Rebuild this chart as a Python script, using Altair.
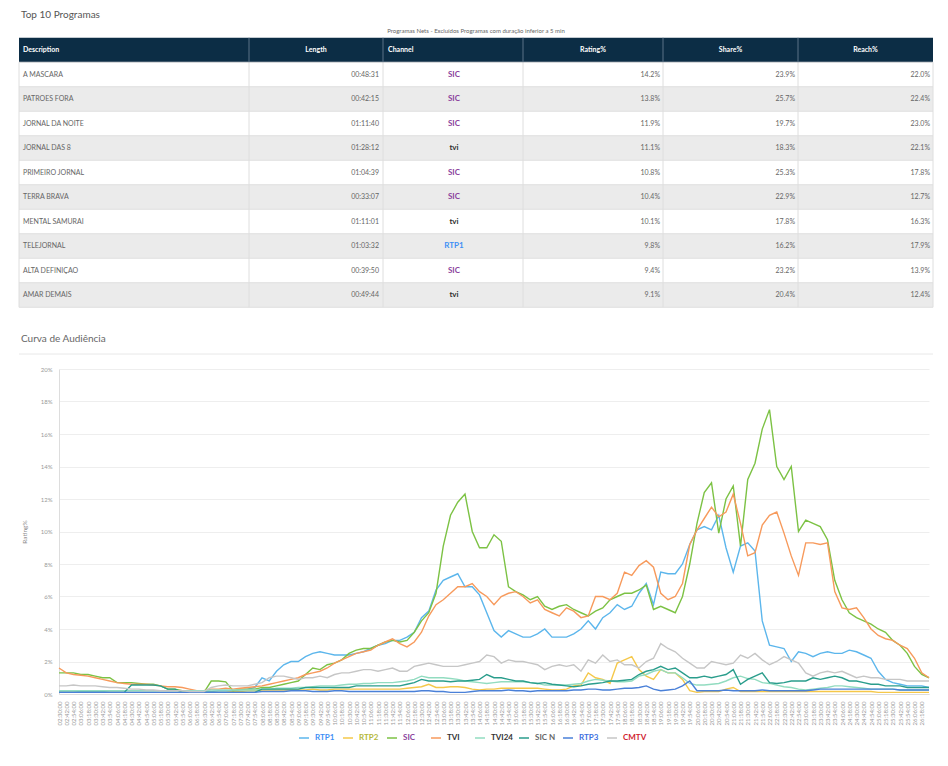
import altair as alt
import pandas as pd

# ---------------- Tabela: Top 10 Programas ----------------
PROGRAMAS = ["A MASCARA", "PATROES FORA", "JORNAL DA NOITE", "JORNAL DAS 8", "PRIMEIRO JORNAL",
             "TERRA BRAVA", "MENTAL SAMURAI", "TELEJORNAL", "ALTA DEFINIÇAO", "AMAR DEMAIS"]
DURACAO = ["00:48:31", "00:42:15", "01:11:40", "01:28:12", "01:04:39",
           "00:33:07", "01:11:01", "01:03:32", "00:39:50", "00:49:44"]
CANAL_PROG = ["SIC", "SIC", "SIC", "tvi", "SIC", "SIC", "tvi", "RTP1", "SIC", "tvi"]
RATING = [14.2, 13.8, 11.9, 11.1, 10.8, 10.4, 10.1, 9.8, 9.4, 9.1]
SHARE = [23.9, 25.7, 19.7, 18.3, 25.3, 22.9, 17.8, 16.2, 23.2, 20.4]
REACH = [22.0, 22.4, 23.0, 22.1, 17.8, 12.7, 16.3, 17.9, 13.9, 12.4]

# ---------------- Curva de Audiência (Rating%, passo de 12 min) ----------------
CANAIS = ["RTP1", "RTP2", "SIC", "TVI", "TVI24", "SIC N", "RTP3", "CMTV"]
CORES = ["#5cb6ec", "#f5c84a", "#7cc244", "#f79a5c", "#92dcc0", "#2a9d8c", "#4a80d8", "#c6c6c6"]
LOGO_CORES = ["#3d8ff5", "#b5b83a", "#8a3f9c", "#333333", "#333333", "#666666", "#3d6fe0", "#d0202e"]

HORAS = ["%02d:%02d:00" % ((150 + 12 * i) // 60, (150 + 12 * i) % 60) for i in range(121)]

RTP1 = [0.2, 0.2, 0.2, 0.15, 0.15, 0.15, 0.15, 0.1, 0.1, 0.1,
        0.1, 0.1, 0.1, 0.1, 0.1, 0.1, 0.1, 0.1, 0.1, 0.1,
        0.15, 0.15, 0.2, 0.2, 0.2, 0.25, 0.3, 0.4, 1.0, 0.8,
        1.4, 1.8, 2.0, 2.0, 2.3, 2.5, 2.6, 2.5, 2.4, 2.4,
        2.4, 2.5, 2.6, 2.8, 3.0, 3.1, 3.3, 3.3, 3.5, 3.8,
        4.7, 5.1, 6.4, 7.0, 7.2, 7.4, 6.6, 6.6, 6.1, 5.0,
        3.9, 3.5, 3.9, 3.7, 3.5, 3.5, 3.7, 4.0, 3.5, 3.5,
        3.5, 3.7, 4.0, 4.5, 4.0, 4.7, 5.0, 5.5, 5.2, 5.4,
        6.2, 6.8, 5.5, 7.5, 7.4, 7.4, 8.0, 9.2, 10.1, 10.3,
        10.1, 11.0, 9.0, 7.5, 9.1, 9.3, 8.8, 4.5, 3.0, 2.9,
        2.8, 2.0, 2.6, 2.5, 2.3, 2.5, 2.6, 2.5, 2.5, 2.7,
        2.6, 2.4, 2.2, 1.4, 0.9, 0.7, 0.6, 0.5, 0.5, 0.5,
        0.4]
RTP2 = [0.1, 0.1, 0.1, 0.1, 0.1, 0.1, 0.1, 0.1, 0.1, 0.1,
        0.1, 0.1, 0.1, 0.1, 0.1, 0.1, 0.1, 0.1, 0.1, 0.1,
        0.1, 0.1, 0.1, 0.1, 0.15, 0.15, 0.2, 0.2, 0.25, 0.25,
        0.25, 0.25, 0.25, 0.25, 0.25, 0.3, 0.25, 0.25, 0.3, 0.3,
        0.3, 0.3, 0.3, 0.3, 0.3, 0.3, 0.3, 0.3, 0.35, 0.4,
        0.45, 0.6, 0.4, 0.4, 0.45, 0.45, 0.4, 0.3, 0.25, 0.3,
        0.3, 0.35, 0.35, 0.35, 0.35, 0.35, 0.35, 0.3, 0.25, 0.25,
        0.3, 0.5, 0.55, 1.3, 1.0, 0.9, 0.65, 1.9, 2.1, 2.3,
        1.5, 1.1, 0.9, 1.5, 1.3, 1.3, 0.9, 0.2, 0.1, 0.15,
        0.15, 0.15, 0.3, 0.4, 0.15, 0.15, 0.15, 0.15, 0.15, 0.15,
        0.15, 0.15, 0.15, 0.15, 0.15, 0.15, 0.15, 0.15, 0.15, 0.15,
        0.15, 0.15, 0.15, 0.1, 0.1, 0.1, 0.1, 0.1, 0.1, 0.1,
        0.1]
SIC = [1.3, 1.3, 1.3, 1.2, 1.2, 1.1, 1.0, 1.0, 0.7, 0.7,
       0.7, 0.65, 0.6, 0.6, 0.5, 0.3, 0.3, 0.2, 0.1, 0.1,
       0.1, 0.8, 0.8, 0.75, 0.2, 0.3, 0.3, 0.3, 0.4, 0.4,
       0.5, 0.6, 0.7, 0.8, 1.2, 1.6, 1.5, 1.8, 1.9, 2.1,
       2.5, 2.7, 2.8, 2.8, 3.0, 3.2, 3.3, 3.2, 3.3, 3.8,
       4.5, 5.0, 6.2, 9.1, 11.0, 11.8, 12.3, 10.0, 9.0, 9.0,
       9.8, 9.4, 6.6, 6.3, 6.1, 5.8, 6.0, 5.4, 5.2, 5.4,
       5.5, 5.2, 5.0, 4.8, 5.1, 5.3, 5.8, 6.0, 6.2, 6.2,
       6.4, 6.7, 5.2, 5.4, 5.2, 5.0, 6.0, 8.0, 10.5, 12.4,
       13.0, 9.9, 12.0, 12.8, 9.1, 13.2, 14.2, 16.3, 17.5, 14.0,
       13.2, 14.0, 10.0, 10.7, 10.5, 10.3, 9.5, 7.0, 5.8, 5.0,
       4.7, 4.5, 4.3, 4.0, 3.8, 3.3, 3.0, 2.5, 1.7, 1.2,
       1.0]
TVI = [1.6, 1.3, 1.2, 1.15, 1.1, 1.0, 0.9, 0.8, 0.7, 0.65,
       0.6, 0.6, 0.6, 0.55, 0.5, 0.45, 0.45, 0.4, 0.3, 0.2,
       0.2, 0.3, 0.3, 0.35, 0.3, 0.35, 0.4, 0.45, 0.5, 0.6,
       0.7, 0.8, 0.9, 1.0, 1.2, 1.3, 1.4, 1.6, 1.9, 2.1,
       2.3, 2.5, 2.6, 2.7, 3.0, 3.2, 3.4, 3.1, 2.9, 3.2,
       3.8, 4.8, 5.5, 5.8, 6.2, 6.6, 6.6, 6.8, 6.3, 6.0,
       5.5, 6.0, 6.2, 6.3, 6.0, 5.6, 5.8, 5.2, 5.0, 4.8,
       5.3, 5.1, 4.7, 4.8, 6.0, 6.0, 5.8, 6.2, 7.5, 7.3,
       7.9, 8.2, 7.8, 6.2, 5.8, 6.0, 6.8, 9.2, 10.1, 10.8,
       11.5, 10.9, 11.2, 12.3, 10.5, 8.5, 8.7, 10.4, 11.0, 11.2,
       9.9, 8.5, 7.3, 9.3, 9.3, 9.2, 9.3, 6.3, 5.3, 5.2,
       5.3, 4.7, 4.0, 3.6, 3.4, 3.3, 3.0, 2.8, 2.2, 1.3,
       1.0]
TVI24 = [0.2, 0.2, 0.2, 0.2, 0.2, 0.2, 0.2, 0.2, 0.2, 0.2,
         0.2, 0.2, 0.2, 0.2, 0.2, 0.2, 0.2, 0.2, 0.2, 0.2,
         0.2, 0.25, 0.25, 0.25, 0.25, 0.25, 0.25, 0.25, 0.3, 0.3,
         0.35, 0.35, 0.35, 0.4, 0.4, 0.45, 0.5, 0.5, 0.5, 0.55,
         0.6, 0.6, 0.65, 0.65, 0.7, 0.7, 0.7, 0.75, 0.8, 0.9,
         1.1, 1.0, 1.0, 1.0, 0.95, 0.9, 0.8, 0.75, 0.7, 0.65,
         0.7, 0.75, 0.75, 0.75, 0.75, 0.7, 0.65, 0.55, 0.55, 0.55,
         0.55, 0.6, 0.65, 0.8, 0.9, 0.85, 0.8, 0.75, 0.75, 0.8,
         1.1, 1.2, 1.4, 1.5, 1.3, 1.3, 1.0, 0.65, 0.55, 0.55,
         0.6, 0.65, 0.8, 1.0, 1.1, 0.95, 0.9, 0.7, 0.65, 0.55,
         0.45, 0.4, 0.3, 0.25, 0.3, 0.35, 0.4, 0.5, 0.5, 0.45,
         0.4, 0.35, 0.3, 0.3, 0.3, 0.3, 0.25, 0.25, 0.25, 0.25,
         0.25]
SICN = [0.1, 0.1, 0.1, 0.1, 0.1, 0.1, 0.1, 0.1, 0.1, 0.1,
        0.55, 0.55, 0.55, 0.55, 0.5, 0.3, 0.3, 0.1, 0.1, 0.1,
        0.1, 0.1, 0.1, 0.1, 0.1, 0.1, 0.1, 0.1, 0.3, 0.3,
        0.3, 0.3, 0.3, 0.3, 0.4, 0.4, 0.4, 0.4, 0.4, 0.4,
        0.4, 0.5, 0.5, 0.5, 0.5, 0.5, 0.5, 0.5, 0.6, 0.7,
        0.9, 0.8, 0.8, 0.8, 0.75, 0.8, 0.8, 0.85, 0.9, 1.2,
        1.0, 1.0, 0.9, 0.8, 0.8, 0.7, 0.65, 0.7, 0.6, 0.55,
        0.5, 0.45, 0.5, 0.6, 0.65, 0.7, 0.8, 0.8, 0.85, 0.9,
        1.2, 1.4, 1.5, 1.7, 1.5, 1.6, 1.3, 1.0, 1.0, 1.1,
        1.0, 1.1, 1.2, 1.5, 0.6, 0.9, 1.1, 1.3, 0.7, 0.65,
        0.7, 0.8, 0.8, 0.8, 1.0, 0.9, 1.0, 1.1, 1.0, 0.8,
        0.8, 0.7, 0.6, 0.6, 0.5, 0.5, 0.5, 0.4, 0.4, 0.4,
        0.4]
RTP3 = [0.1, 0.1, 0.1, 0.1, 0.1, 0.1, 0.1, 0.1, 0.1, 0.1,
        0.1, 0.1, 0.1, 0.1, 0.1, 0.1, 0.1, 0.1, 0.1, 0.1,
        0.1, 0.1, 0.1, 0.1, 0.1, 0.1, 0.1, 0.1, 0.15, 0.15,
        0.15, 0.15, 0.2, 0.2, 0.2, 0.15, 0.15, 0.15, 0.2, 0.2,
        0.15, 0.15, 0.15, 0.15, 0.15, 0.15, 0.15, 0.15, 0.15, 0.15,
        0.2, 0.2, 0.15, 0.15, 0.1, 0.1, 0.1, 0.15, 0.2, 0.2,
        0.2, 0.2, 0.25, 0.2, 0.2, 0.15, 0.2, 0.2, 0.2, 0.2,
        0.2, 0.25, 0.25, 0.3, 0.3, 0.25, 0.25, 0.3, 0.35, 0.35,
        0.4, 0.5, 0.3, 0.2, 0.25, 0.3, 0.5, 0.8, 0.2, 0.2,
        0.2, 0.2, 0.25, 0.2, 0.2, 0.2, 0.2, 0.25, 0.2, 0.2,
        0.2, 0.2, 0.2, 0.2, 0.25, 0.3, 0.3, 0.3, 0.3, 0.3,
        0.3, 0.3, 0.3, 0.3, 0.3, 0.3, 0.25, 0.25, 0.25, 0.25,
        0.25]
CMTV = [0.5, 0.5, 0.55, 0.5, 0.5, 0.5, 0.45, 0.4, 0.4, 0.35,
        0.3, 0.3, 0.25, 0.25, 0.2, 0.2, 0.2, 0.2, 0.15, 0.15,
        0.15, 0.4, 0.5, 0.55, 0.5, 0.5, 0.5, 0.6, 0.7, 1.0,
        1.1, 1.1, 1.0, 0.9, 1.0, 1.0, 1.1, 1.0, 1.2, 1.3,
        1.3, 1.4, 1.5, 1.5, 1.4, 1.5, 1.6, 1.4, 1.4, 1.7,
        1.8, 1.9, 1.8, 1.7, 1.7, 1.7, 1.8, 1.9, 2.0, 2.4,
        2.3, 1.9, 2.1, 2.0, 2.0, 1.9, 1.8, 1.5, 1.7, 1.8,
        1.7, 1.8, 1.4, 2.1, 1.9, 2.4, 2.0, 2.1, 1.8, 1.8,
        1.6, 2.0, 2.2, 3.1, 2.8, 2.6, 2.2, 1.9, 1.6, 1.6,
        2.0, 1.9, 1.8, 1.9, 2.4, 2.2, 2.5, 2.1, 1.8, 2.0,
        2.3, 2.1, 1.9, 1.3, 1.1, 1.3, 1.4, 1.3, 1.4, 1.2,
        1.0, 1.1, 1.0, 1.0, 0.9, 0.9, 0.9, 0.8, 0.8, 0.8,
        0.8]
SERIES = [RTP1, RTP2, SIC, TVI, TVI24, SICN, RTP3, CMTV]

# ---------------- layout constants ----------------
TW, TH = 914, 301          # table view (page x 18..932)
PL = 40                    # plot starts 40px right of the table's left edge
LW, LH = TW - 4, 325       # line view
FONT = "Lato"
ysc = alt.Scale(domain=[-1.7143, 10.5714], reverse=True, nice=False, zero=False)
one = pd.DataFrame({"a": [0]})

n = len(PROGRAMAS)
tab = pd.DataFrame({
    "row": list(range(1, n + 1)),
    "prog": PROGRAMAS,
    "dur": DURACAO,
    "canal": CANAL_PROG,
    "rating": ["%.1f%%" % v for v in RATING],
    "share": ["%.1f%%" % v for v in SHARE],
    "reach": ["%.1f%%" % v for v in REACH],
})
tab["y0"] = tab["row"] - 0.5
tab["y1"] = tab["row"] + 0.5
tab["faixa"] = ["a" if r % 2 else "b" for r in tab["row"]]

Y = lambda f: alt.Y(f, scale=ysc, axis=None)

layers = []
layers.append(alt.Chart(tab).mark_rect().encode(
    x=alt.value(0), x2=alt.value(TW), y=Y("y0:Q"), y2="y1:Q",
    fill=alt.Fill("faixa:N", scale=alt.Scale(domain=["a", "b"], range=["#ffffff", "#ebebeb"]), legend=None)))
layers.append(alt.Chart(pd.DataFrame({"y0": [-0.5], "y1": [0.5]})).mark_rect(color="#0c2d45").encode(
    x=alt.value(0), x2=alt.value(TW), y=Y("y0:Q"), y2="y1:Q"))
layers.append(alt.Chart(pd.DataFrame({"yb": [i + 0.5 for i in range(0, n + 1)]})).mark_rule(
    color="#dedede", strokeWidth=1).encode(x=alt.value(0), x2=alt.value(TW), y=Y("yb:Q")))
EDGES = [0, 230, 364, 504, 644, 779, TW]
for px in EDGES:
    layers.append(alt.Chart(pd.DataFrame({"a": [0.5], "b": [n + 0.5]})).mark_rule(
        color="#dedede", strokeWidth=1).encode(x=alt.value(px), y=Y("a:Q"), y2="b:Q"))
    if 0 < px < TW:
        layers.append(alt.Chart(pd.DataFrame({"a": [-0.5], "b": [0.5]})).mark_rule(
            color="#5b7387", strokeWidth=1).encode(x=alt.value(px), y=Y("a:Q"), y2="b:Q"))
HEAD = [("Description", 4, "left"), ("Length", 297, "center"), ("Channel", 369, "left"),
        ("Rating%", 574, "center"), ("Share%", 711.5, "center"), ("Reach%", 846.5, "center")]
for label, px, al in HEAD:
    layers.append(alt.Chart(pd.DataFrame({"row": [0]})).mark_text(
        text=label, align=al, baseline="middle", font=FONT, fontSize=7, fontWeight="bold",
        color="#ffffff").encode(x=alt.value(px), y=Y("row:Q")))
CELLS = [("prog", 4, "left"), ("dur", 360, "right"), ("rating", 641, "right"),
         ("share", 776, "right"), ("reach", 911, "right")]
for field, px, al in CELLS:
    layers.append(alt.Chart(tab).mark_text(
        align=al, baseline="middle", font=FONT, fontSize=7, color="#666666").encode(
        x=alt.value(px), y=Y("row:Q"), text=field + ":N"))
layers.append(alt.Chart(tab).mark_text(
    align="center", baseline="middle", font=FONT, fontSize=8, fontWeight="bold").encode(
    x=alt.value(435), y=Y("row:Q"), text="canal:N",
    color=alt.Color("canal:N", scale=alt.Scale(domain=["SIC", "tvi", "RTP1"],
                                               range=["#8a3f9c", "#333333", "#3d8ff5"]), legend=None)))
layers.append(alt.Chart(one).mark_text(
    text="Top 10 Programas", align="left", baseline="top", font=FONT, fontSize=10,
    color="#555555").encode(x=alt.value(2), y=alt.value(2)))
layers.append(alt.Chart(one).mark_text(
    text="Programas Nets - Excluídos Programas com duração inferior a 5 min", align="center",
    baseline="middle", font=FONT, fontSize=6, color="#666666").encode(x=alt.value(TW / 2), y=alt.value(23)))

tabela = alt.layer(*layers).properties(width=TW, height=TH)

# ---------------- line chart ----------------
rows = []
for canal, serie in zip(CANAIS, SERIES):
    for h, v in zip(HORAS, serie):
        rows.append({"hora": h, "canal": canal, "valor": v})
df = pd.DataFrame(rows)

label_expr = " : ".join(
    ["datum.label == '%s' ? '%s'" % (c, col) for c, col in zip(CANAIS, LOGO_CORES)]) + " : '#555555'"

linhas = alt.Chart(df).mark_line(strokeWidth=1.4).encode(
    x=alt.X("hora:O", sort=HORAS, scale=alt.Scale(type="point", padding=0, range=[PL, LW]),
            axis=alt.Axis(values=HORAS[:-1], labelAngle=270, title=None, labelFont=FONT,
                          labelFontSize=6, labelColor="#999999", labelPadding=7, ticks=False,
                          domainColor="#dddddd", grid=False, labelOverlap=False)),
    y=alt.Y("valor:Q", scale=alt.Scale(domain=[0, 20], nice=False),
            axis=alt.Axis(values=list(range(0, 21, 2)), labelExpr="datum.value + '%'", offset=-PL,
                          title="Rating%", titleFont=FONT, titleFontSize=6.5, titleFontWeight="normal",
                          titleColor="#888888", titlePadding=13, labelFont=FONT, labelFontSize=6,
                          labelColor="#999999", labelPadding=7, ticks=False, gridColor="#eeeeee",
                          domainColor="#dddddd")),
    color=alt.Color("canal:N", scale=alt.Scale(domain=CANAIS, range=CORES),
                    legend=alt.Legend(orient="none", legendX=279, legendY=363, direction="horizontal",
                                      columns=8, title=None, symbolType="stroke", symbolStrokeWidth=1.5,
                                      symbolSize=100, labelFont=FONT, labelFontSize=8,
                                      labelFontWeight="bold", labelOffset=5, columnPadding=1,
                                      gridAlign="all", labelColor=alt.ExprRef(expr=label_expr))),
)

cab = alt.Chart(one).mark_text(
    text="Curva de Audiência", align="left", baseline="middle", font=FONT, fontSize=10,
    color="#666666").encode(x=alt.value(2), y=alt.value(-30))
sep = alt.Chart(one).mark_rule(color="#e8e8e8", strokeWidth=1).encode(
    x=alt.value(0), x2=alt.value(TW), y=alt.value(-15))

curva = alt.layer(sep, cab, linhas).properties(width=LW, height=LH)

chart = alt.concat(tabela, curva, columns=1, spacing=60, bounds="flush").resolve_scale(
    color="independent", fill="independent"
).properties(
    padding={"left": 10, "top": 0, "right": 0, "bottom": 0}
).configure(font=FONT).configure_view(strokeWidth=0)

chart.save("out.html", embed_options={"renderer": "svg", "actions": False})
